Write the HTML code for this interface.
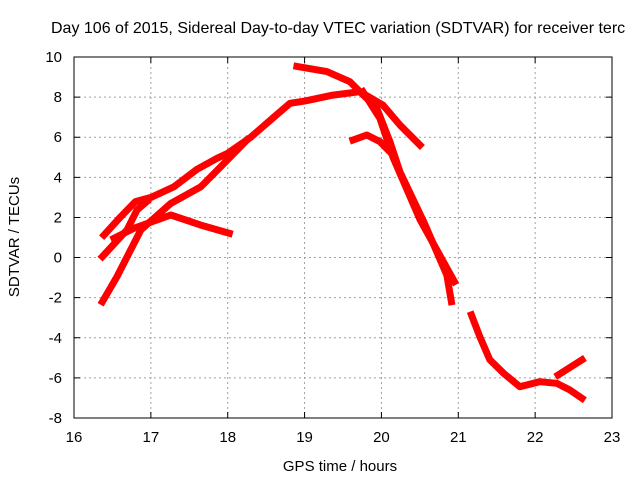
<!DOCTYPE html>
<html><head><meta charset="utf-8"><style>
body{margin:0;background:#fff}
svg text{font-family:"Liberation Sans",sans-serif;font-size:15px;fill:#000}
</style></head><body>
<svg id="chart" width="640" height="480" xmlns="http://www.w3.org/2000/svg">
<rect width="640" height="480" fill="#fff"/>
<text x="51" y="33" style="font-size:16px">Day 106 of 2015, Sidereal Day-to-day VTEC variation (SDTVAR) for receiver terc</text>
<g id="grid"></g>
<g id="series"></g>
<g id="axes"></g>
<text x="340" y="471" text-anchor="middle">GPS time / hours</text>
<text transform="translate(19,237) rotate(-90)" text-anchor="middle">SDTVAR / TECUs</text>
</svg>
<script>
const xTicks=[16,17,18,19,20,21,22,23];
const yTicks=[-8,-6,-4,-2,0,2,4,6,8,10];
const trackUpperH=[16.39,16.6,16.8,17.0,17.3,17.6,17.86,18.0,18.3,18.6,18.81,19.0,19.37,19.72,20.02,20.24,20.5];
const trackUpperV=[1.12,2.0,2.79,3.0,3.53,4.4,4.95,5.2,6.0,7.0,7.69,7.8,8.1,8.27,7.6,6.61,5.61];
const trackMidH=[16.37,16.69,16.82,16.95];
const trackMidV=[0.05,1.38,2.37,2.8];
const trackLowH=[16.37,16.56,16.87,17.26,17.65,17.91,18.25];
const trackLowV=[-2.2,-0.95,1.38,2.7,3.53,4.53,5.86];
const trackHumpH=[16.52,16.78,17.26,17.65,18.02];
const trackHumpV=[0.96,1.46,2.12,1.62,1.21];
const trackTopH=[18.9,19.29,19.59,19.72,19.94,20.11,20.24,20.55,20.85,20.91];
const trackTopV=[9.53,9.27,8.77,8.27,7.44,5.78,4.28,1.79,-0.87,-2.2];
const trackSteepH=[19.76,19.98,20.15,20.5,20.95];
const trackSteepV=[8.27,6.94,5.0,1.9,-1.2];
const trackSmallH=[19.63,19.81,19.98,20.15];
const trackSmallV=[5.86,6.11,5.78,5.11];
const trackEveH=[21.17,21.28,21.41,21.59,21.8,22.06,22.28,22.45,22.61];
const trackEveV=[-2.86,-3.94,-5.1,-5.77,-6.44,-6.19,-6.27,-6.6,-7.02];
const trackLateH=[22.3,22.61];
const trackLateV=[-5.85,-5.1];
const X0=74,X1=612,Y0=418,Y1=57;
const sx=h=>X0+(h-16)/7*(X1-X0);
const sy=v=>Y0-(v+8)/18*(Y0-Y1);
const NS="http://www.w3.org/2000/svg";
const grid=document.getElementById('grid'),axes=document.getElementById('axes'),ser=document.getElementById('series');
function mk(t,a,p){const e=document.createElementNS(NS,t);for(const k in a)e.setAttribute(k,a[k]);p.appendChild(e);return e;}
xTicks.forEach(t=>{const x=sx(t);
 if(t>16&&t<23){const g=mk('line',{x1:x,x2:x,y1:Y1,y2:Y0,stroke:'#a0a0a0','stroke-dasharray':'2,3'},grid);
 
 }
 const tk=mk('path',{d:`M${x},${Y0}v-6M${x},${Y1}v6`,stroke:'#000'},axes);
 
 
 const l=mk('text',{x:x,y:Y0+24,'text-anchor':'middle'},axes);l.textContent=t;
 
 });
yTicks.forEach(t=>{const y=sy(t);
 if(t>-8&&t<10){const g=mk('line',{x1:X0,x2:X1,y1:y,y2:y,stroke:'#a0a0a0','stroke-dasharray':'2,3'},grid);
 
 }
 const tk=mk('path',{d:`M${X0},${y}h6M${X1},${y}h-6`,stroke:'#000'},axes);
 
 
 const l=mk('text',{x:X0-12,y:y+5,'text-anchor':'end'},axes);l.textContent=t;
 
 });
const fr=mk('rect',{x:X0,y:Y1,width:X1-X0,height:Y0-Y1,fill:'none',stroke:'#000'},axes);


const tracks=[[trackUpperH,trackUpperV],[trackMidH,trackMidV],[trackLowH,trackLowV],[trackHumpH,trackHumpV],[trackTopH,trackTopV],[trackSteepH,trackSteepV],[trackSmallH,trackSmallV],[trackEveH,trackEveV],[trackLateH,trackLateV]];
tracks.forEach(([H,V])=>{const pts=H.map((h,i)=>sx(h).toFixed(1)+','+sy(V[i]).toFixed(1)).join(' ');
 const p=mk('polyline',{points:pts,fill:'none',stroke:'#ff0000','stroke-width':7,'stroke-linejoin':'round','stroke-linecap':'square'},ser);
 
 });
</script>
</body></html>
